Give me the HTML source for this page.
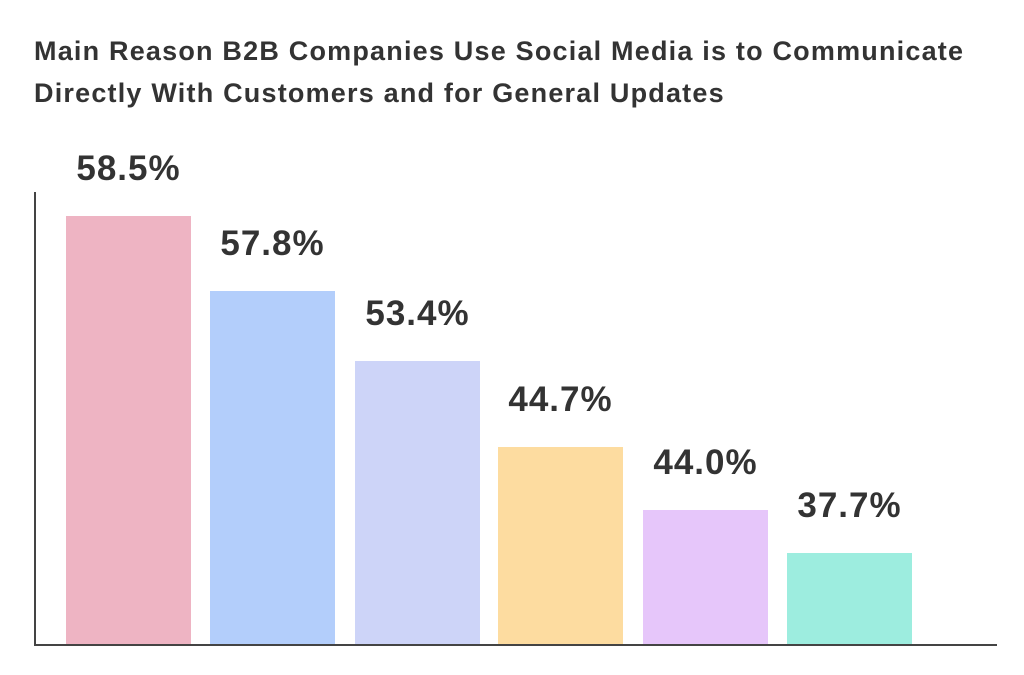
<html><head><style>
body{margin:0;background:#fff;width:1024px;height:675px;overflow:hidden;position:relative;font-family:"Liberation Sans",sans-serif}
.t{position:absolute;left:34px;top:30px;font-size:27px;font-weight:bold;color:#333;line-height:42px;letter-spacing:1.2px;white-space:nowrap}
.b{position:absolute;width:125px}
.l{position:absolute;width:125px;text-align:center;font-size:35px;font-weight:bold;color:#333;letter-spacing:1px}
.ax{position:absolute;background:#444}
</style></head><body>
<div class="t">Main Reason B2B Companies Use Social Media is to Communicate<br>Directly With Customers and for General Updates</div>
<div class="ax" style="left:34px;top:192px;width:2px;height:454px"></div>
<div class="ax" style="left:34px;top:644px;width:963px;height:2px"></div>
<div class="b" style="left:66px;top:216px;height:428px;background:#EEB4C3"></div>
<div class="b" style="left:210px;top:291px;height:353px;background:#B3CEFB"></div>
<div class="b" style="left:355px;top:361px;height:283px;background:#CDD4F8"></div>
<div class="b" style="left:498px;top:447px;height:197px;background:#FDDCA0"></div>
<div class="b" style="left:643px;top:510px;height:134px;background:#E6C6FA"></div>
<div class="b" style="left:787px;top:553px;height:91px;background:#9DEDDF"></div>
<div class="l" style="left:66px;top:149px">58.5%</div>
<div class="l" style="left:210px;top:224px">57.8%</div>
<div class="l" style="left:355px;top:294px">53.4%</div>
<div class="l" style="left:498px;top:380px">44.7%</div>
<div class="l" style="left:643px;top:443px">44.0%</div>
<div class="l" style="left:787px;top:486px">37.7%</div>
</body></html>
